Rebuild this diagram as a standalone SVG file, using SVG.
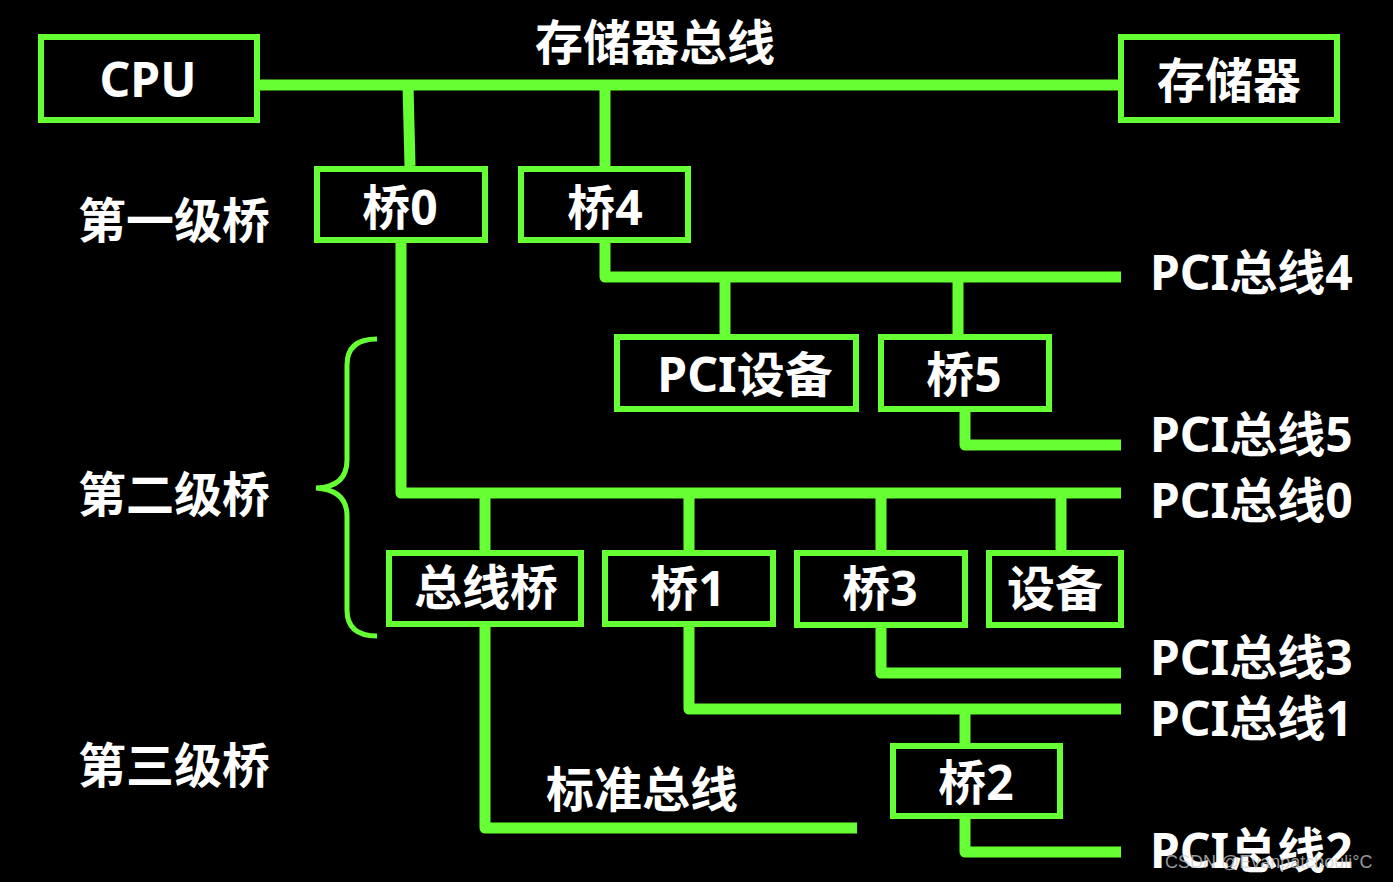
<svg xmlns="http://www.w3.org/2000/svg" width="1393" height="882" viewBox="0 0 1393 882">
<style>
.box{fill:none;stroke:#66ff33;stroke-width:6}
.ln{fill:none;stroke:#66ff33;stroke-width:11;stroke-linejoin:round}
.t{fill:#ffffff;font-family:"Noto Sans","Noto Sans CJK SC",sans-serif;font-weight:bold;font-size:48px}
.m{text-anchor:middle}
.wm{fill:#cccccc;fill-opacity:0.75;font-family:"Liberation Sans","Noto Sans CJK SC",sans-serif;font-size:18px}
</style>
<rect x="0" y="0" width="1393" height="882" fill="#000000"/>
<g id="connectors">
<path class="ln" d="M260,85 H1118"/>
<path class="ln" d="M408,85 L410,166"/>
<path class="ln" d="M605,85 V166"/>
<path class="ln" d="M605,243 V277 H1121"/>
<path class="ln" d="M725,277 V334"/>
<path class="ln" d="M958,277 V334"/>
<path class="ln" d="M965,412 V445 H1121"/>
<path class="ln" d="M401,243 V493 H1121"/>
<path class="ln" d="M485,493 V550"/>
<path class="ln" d="M689,493 V550"/>
<path class="ln" d="M881,493 V550"/>
<path class="ln" d="M1061,493 V550"/>
<path class="ln" d="M485,627 V828 H857"/>
<path class="ln" d="M689,627 V709 H1121"/>
<path class="ln" d="M881,628 V673 H1121"/>
<path class="ln" d="M965,709 V743"/>
<path class="ln" d="M965,819 V852 H1121"/>
<path fill="none" stroke="#66ff33" stroke-width="5" d="M377,339 Q347,339 347,365 V460 Q347,487 316,488 Q347,490 347,516 V610 Q347,636 377,636"/>
</g>
<g id="cpu"><rect class="box" x="41" y="37" width="216" height="83"/><text class="t m" x="148" y="97" font-size="50">CPU</text></g>
<g id="memory"><rect class="box" x="1121" y="37" width="216" height="83"/><text class="t m" x="1229" y="98">存储器</text></g>
<g id="bridge0"><rect class="box" x="317" y="169" width="168" height="71"/><text class="t m" x="400" y="225">桥0</text></g>
<g id="bridge4"><rect class="box" x="521" y="169" width="167" height="71"/><text class="t m" x="605" y="225">桥4</text></g>
<g id="pcidev"><rect class="box" x="617" y="337" width="239" height="72"/><text class="t m" x="745" y="392">PCI设备</text></g>
<g id="bridge5"><rect class="box" x="881" y="337" width="168" height="72"/><text class="t m" x="964" y="392">桥5</text></g>
<g id="busbridge"><rect class="box" x="389" y="553" width="192" height="71"/><text class="t m" x="486" y="605">总线桥</text></g>
<g id="bridge1"><rect class="box" x="605" y="553" width="168" height="71"/><text class="t m" x="688" y="606">桥1</text></g>
<g id="bridge3"><rect class="box" x="797" y="553" width="168" height="72"/><text class="t m" x="880" y="606">桥3</text></g>
<g id="device"><rect class="box" x="989" y="553" width="132" height="72"/><text class="t m" x="1055" y="606">设备</text></g>
<g id="bridge2"><rect class="box" x="893" y="746" width="167" height="70"/><text class="t m" x="976" y="800">桥2</text></g>
<g id="labels">
<text class="t m" x="655" y="60">存储器总线</text>
<text class="t" x="78" y="238">第一级桥</text>
<text class="t" x="78" y="512">第二级桥</text>
<text class="t" x="78" y="783">第三级桥</text>
<text class="t m" x="642" y="807">标准总线</text>
<text class="t" x="1150" y="290">PCI总线4</text>
<text class="t" x="1150" y="452">PCI总线5</text>
<text class="t" x="1150" y="518">PCI总线0</text>
<text class="t" x="1150" y="675">PCI总线3</text>
<text class="t" x="1150" y="736">PCI总线1</text>
<text class="t" x="1150" y="868">PCI总线2</text>
<text class="wm" x="1165" y="868">CSDN @Evanpatchouli°C</text>
</g>
</svg>
